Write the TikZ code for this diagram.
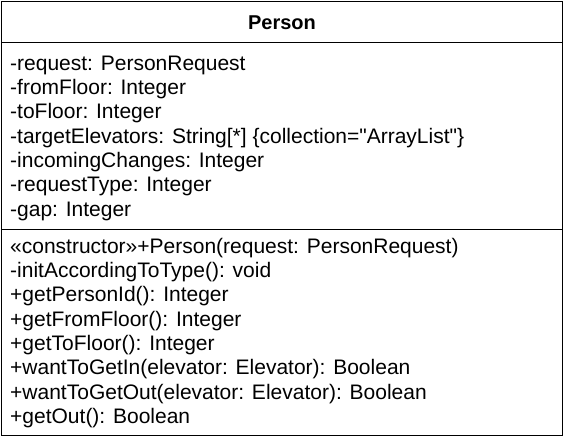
\documentclass[tikz,border=0pt]{standalone}
\usepackage{fontspec}
\setmainfont{Liberation Sans}
\usetikzlibrary{positioning}

\tikzset{
  compart/.style={draw, line width=1.4pt, minimum width=561pt, inner sep=0pt, anchor=north west},
  member/.style={anchor=base west, inner sep=0pt, font=\fontsize{21}{24}\selectfont}
}

\begin{document}
\begin{tikzpicture}[x=1pt, y=-1pt]

        \useasboundingbox (0,0) rectangle (564,437);

        % ------------------ Class compartments ------------------
        \node[compart, minimum height=41pt] (head) at (1,1) {};
        \node[compart, minimum height=187pt] (attrs) at (1,42) {};
        \node[compart, minimum height=206pt] (ops) at (1,229) {};

        % Class name
        \node[anchor=base, inner sep=0pt, font=\fontsize{20}{24}\bfseries] (name) at (282,29) {Person};

        % Attributes
        \node[member] (a1) at (10,70) {-request: PersonRequest};
        \node[member] (a2) at (10,94.3) {-fromFloor: Integer};
        \node[member] (a3) at (10,118.7) {-toFloor: Integer};
        \node[member] (a4) at (10,143) {-targetElevators: String[*] \{collection=\textquotedbl ArrayList\textquotedbl\}};
        \node[member] (a5) at (10,167.3) {-incomingChanges: Integer};
        \node[member] (a6) at (10,191.7) {-requestType: Integer};
        \node[member] (a7) at (10,216) {-gap: Integer};

        % Operations
        \node[member] (o1) at (10,253) {«constructor»+Person(request: PersonRequest)};
        \node[member] (o2) at (10,277.3) {-initAccordingToType(): void};
        \node[member] (o3) at (10,301.7) {+getPersonId(): Integer};
        \node[member] (o4) at (10,326) {+getFromFloor(): Integer};
        \node[member] (o5) at (10,350.3) {+getToFloor(): Integer};
        \node[member] (o6) at (10,374.7) {+wantToGetIn(elevator: Elevator): Boolean};
        \node[member] (o7) at (10,399) {+wantToGetOut(elevator: Elevator): Boolean};
        \node[member] (o8) at (10,423.3) {+getOut(): Boolean};

\end{tikzpicture}
\end{document}
